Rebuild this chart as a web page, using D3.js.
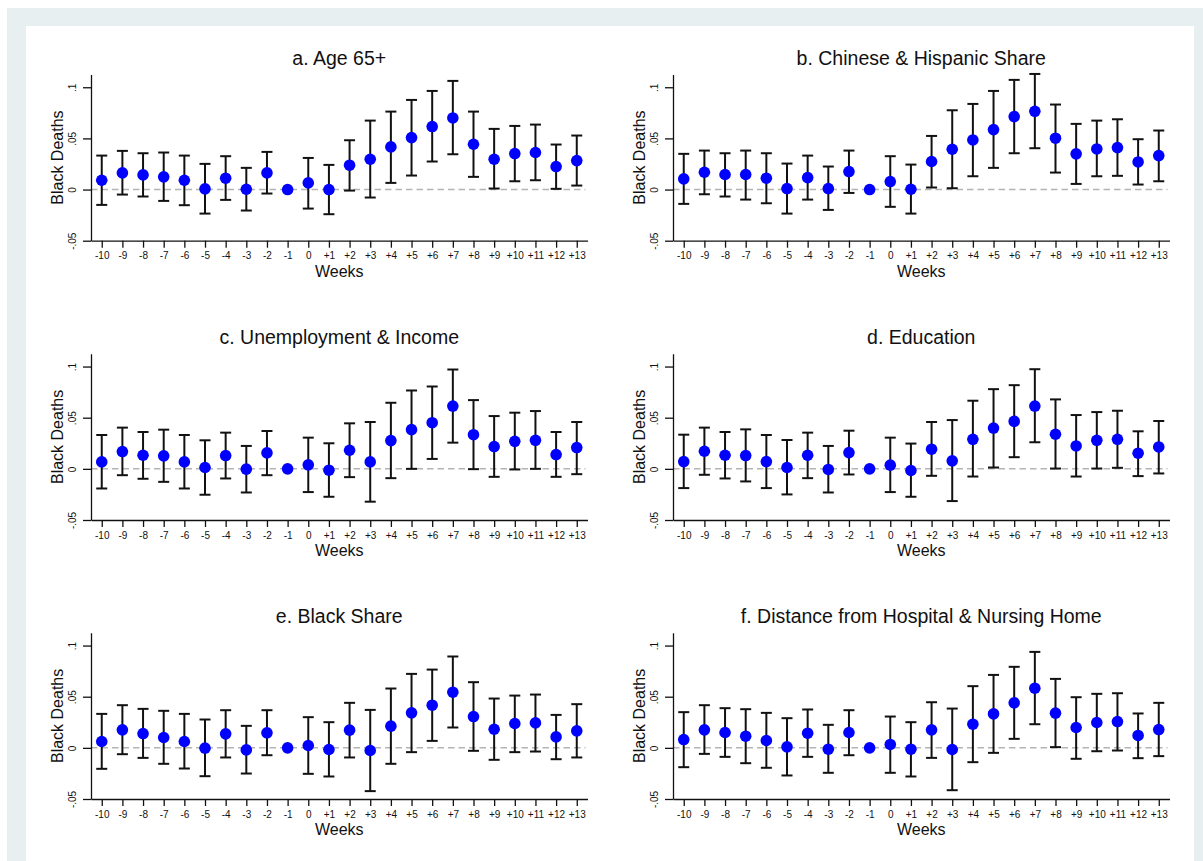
<!DOCTYPE html>
<html>
<head>
<meta charset="utf-8">
<script src="https://cdn.jsdelivr.net/npm/d3@7"></script>
<style>
  html, body { margin: 0; padding: 0; background: #ffffff; }
  svg { display: block; }
  text { font-family: "Liberation Sans", Arial, Helvetica, sans-serif; fill: #111; }
</style>
</head>
<body>
<svg id="chart" width="1203" height="861"></svg>
<script>
// ---- Data ----
const weeks = ["-10","-9","-8","-7","-6","-5","-4","-3","-2","-1","0","+1","+2","+3","+4","+5","+6","+7","+8","+9","+10","+11","+12","+13"];
const titles = ["a. Age 65+", "b. Chinese & Hispanic Share", "c. Unemployment & Income", "d. Education", "e. Black Share", "f. Distance from Hospital & Nursing Home"];
const yTicks = [-0.05, 0, 0.05, 0.1];
const yTickLabels = ["-.05", "0", ".05", ".1"];

const estA = [0.0091,0.0163,0.0143,0.0124,0.0091,0.0007,0.0111,0.0003,0.0163,0,0.0065,0.0000,0.0238,0.0296,0.0417,0.0508,0.0616,0.0700,0.0443,0.0296,0.0352,0.0362,0.0225,0.0283];
const hiA  = [0.0332,0.0378,0.0355,0.0362,0.0332,0.0251,0.0326,0.0212,0.0368,0,0.0309,0.0241,0.0482,0.0674,0.0762,0.0876,0.0964,0.1062,0.0762,0.0593,0.0622,0.0635,0.0440,0.0528];
const loA  = [-0.0150,-0.0049,-0.0068,-0.0111,-0.0153,-0.0235,-0.0101,-0.0205,-0.0039,0,-0.0186,-0.0241,-0.0010,-0.0078,0.0065,0.0137,0.0274,0.0345,0.0124,0.0010,0.0081,0.0091,0.0007,0.0039];

const estB = [0.0104,0.0169,0.0147,0.0147,0.0111,0.0010,0.0117,0.0010,0.0176,0,0.0078,0.0003,0.0274,0.0394,0.0485,0.0586,0.0713,0.0765,0.0502,0.0349,0.0397,0.0410,0.0270,0.0332];
const hiB  = [0.0349,0.0381,0.0355,0.0381,0.0355,0.0254,0.0332,0.0225,0.0381,0,0.0326,0.0244,0.0524,0.0775,0.0837,0.0964,0.1072,0.1130,0.0831,0.0642,0.0674,0.0687,0.0492,0.0577];
const loB  = [-0.0140,-0.0046,-0.0068,-0.0098,-0.0134,-0.0235,-0.0098,-0.0199,-0.0033,0,-0.0169,-0.0235,0.0020,0.0013,0.0130,0.0212,0.0355,0.0404,0.0166,0.0055,0.0130,0.0134,0.0049,0.0081];

const estC = [0.0068,0.0169,0.0133,0.0127,0.0068,0.0013,0.0130,-0.0003,0.0156,0,0.0039,-0.0013,0.0182,0.0068,0.0276,0.0383,0.0451,0.0614,0.0334,0.0218,0.0269,0.0279,0.0140,0.0208];
const hiC  = [0.0331,0.0403,0.0360,0.0383,0.0331,0.0279,0.0354,0.0224,0.0370,0,0.0305,0.0250,0.0445,0.0458,0.0646,0.0766,0.0805,0.0971,0.0672,0.0516,0.0549,0.0565,0.0360,0.0458];
const loC  = [-0.0192,-0.0062,-0.0097,-0.0127,-0.0192,-0.0253,-0.0094,-0.0231,-0.0062,0,-0.0227,-0.0273,-0.0081,-0.0321,-0.0091,0.0000,0.0097,0.0256,-0.0003,-0.0078,-0.0006,0.0000,-0.0078,-0.0052];

const estD = [0.0071,0.0172,0.0133,0.0130,0.0071,0.0013,0.0133,-0.0006,0.0159,0,0.0036,-0.0016,0.0192,0.0078,0.0289,0.0399,0.0464,0.0614,0.0338,0.0224,0.0279,0.0289,0.0153,0.0214];
const hiD  = [0.0334,0.0403,0.0360,0.0386,0.0331,0.0282,0.0354,0.0224,0.0373,0,0.0305,0.0247,0.0458,0.0477,0.0666,0.0779,0.0818,0.0974,0.0679,0.0526,0.0555,0.0568,0.0367,0.0468];
const loD  = [-0.0188,-0.0058,-0.0094,-0.0123,-0.0188,-0.0250,-0.0091,-0.0231,-0.0055,0,-0.0227,-0.0273,-0.0068,-0.0315,-0.0075,0.0013,0.0114,0.0260,0.0003,-0.0075,0.0003,0.0010,-0.0071,-0.0045];

const estE = [0.0062,0.0176,0.0140,0.0101,0.0062,-0.0003,0.0137,-0.0020,0.0147,0,0.0023,-0.0016,0.0173,-0.0026,0.0212,0.0342,0.0417,0.0544,0.0306,0.0182,0.0238,0.0244,0.0107,0.0166];
const hiE  = [0.0332,0.0417,0.0381,0.0362,0.0332,0.0277,0.0368,0.0215,0.0368,0,0.0300,0.0251,0.0440,0.0371,0.0580,0.0723,0.0765,0.0893,0.0642,0.0482,0.0511,0.0521,0.0322,0.0427];
const loE  = [-0.0205,-0.0062,-0.0098,-0.0156,-0.0202,-0.0277,-0.0094,-0.0251,-0.0072,0,-0.0254,-0.0280,-0.0094,-0.0423,-0.0156,-0.0042,0.0068,0.0199,-0.0029,-0.0117,-0.0042,-0.0036,-0.0111,-0.0094];

const estF = [0.0081,0.0176,0.0150,0.0114,0.0072,0.0010,0.0143,-0.0013,0.0150,0,0.0033,-0.0013,0.0176,-0.0016,0.0231,0.0332,0.0440,0.0583,0.0339,0.0199,0.0248,0.0257,0.0121,0.0179];
const hiF  = [0.0349,0.0417,0.0388,0.0378,0.0342,0.0290,0.0375,0.0225,0.0368,0,0.0306,0.0251,0.0446,0.0384,0.0603,0.0713,0.0792,0.0938,0.0674,0.0495,0.0528,0.0534,0.0336,0.0440];
const loF  = [-0.0189,-0.0059,-0.0088,-0.0150,-0.0195,-0.0270,-0.0088,-0.0244,-0.0072,0,-0.0244,-0.0280,-0.0098,-0.0414,-0.0140,-0.0049,0.0088,0.0231,0.0007,-0.0107,-0.0033,-0.0026,-0.0101,-0.0081];

const panelsData = [
  [estA, loA, hiA], [estB, loB, hiB],
  [estC, loC, hiC], [estD, loD, hiD],
  [estE, loE, hiE], [estF, loF, hiF]
];

// ---- Layout ----
const svg = d3.select("#chart");
svg.append("rect").attr("x", 0).attr("y", 0).attr("width", 1203).attr("height", 861).attr("fill", "#ffffff");
svg.append("rect").attr("x", 7).attr("y", 8).attr("width", 1196).attr("height", 853).attr("fill", "#e8eff1");
svg.append("rect").attr("x", 26).attr("y", 26).attr("width", 1168).attr("height", 835).attr("fill", "#ffffff");

const colX = [91, 673];       // y-axis position per column
const plotW = 496.5;
const rowY = [240.7, 520, 799]; // x-axis position per row
const pxPerUnit = 1023;
const yMax = 0.1125;

panelsData.forEach((pd, p) => {
  const [est, lo, hi] = pd;
  const col = p % 2, row = Math.floor(p / 2);
  const x0 = colX[col], x1 = x0 + plotW;
  const yb = rowY[row];
  const g = svg.append("g");

  const x = d3.scaleLinear().domain([-0.52, 23.52]).range([x0, x1]);
  const y = d3.scaleLinear().domain([-0.05, yMax]).range([yb, yb - (yMax + 0.05) * pxPerUnit]);

  // zero reference line
  g.append("line")
    .attr("x1", x0).attr("x2", x1 - 2)
    .attr("y1", y(0)).attr("y2", y(0))
    .attr("stroke", "#b4b4b4").attr("stroke-width", 1.5)
    .attr("stroke-dasharray", "6.5,4");

  // y axis
  const yAxis = d3.axisLeft(y).tickValues(yTicks)
    .tickFormat((d, i) => yTickLabels[i]).tickSize(8).tickSizeOuter(0);
  const ya = g.append("g").attr("transform", `translate(${x0},0)`).call(yAxis);
  ya.select(".domain").attr("stroke", "#111").attr("stroke-width", 1.3);
  ya.selectAll(".tick line").attr("stroke", "#111").attr("stroke-width", 1.3);
  ya.selectAll(".tick text")
    .attr("transform", "rotate(-90)")
    .attr("x", 0).attr("y", -15).attr("dy", 0)
    .attr("text-anchor", "middle")
    .style("font-size", "10px").attr("fill", "#111");

  // x axis
  const xAxis = d3.axisBottom(x).tickValues(d3.range(weeks.length))
    .tickFormat(i => weeks[i]).tickSize(7).tickSizeOuter(0).tickPadding(4.5);
  const xa = g.append("g").attr("transform", `translate(0,${yb})`).call(xAxis);
  xa.select(".domain").attr("stroke", "#111").attr("stroke-width", 1.3);
  xa.selectAll(".tick line").attr("stroke", "#111").attr("stroke-width", 1.3);
  xa.selectAll(".tick text").style("font-size", "10px").attr("fill", "#111");

  // error bars
  const bars = g.append("g");
  weeks.forEach((w, i) => {
    if (hi[i] === lo[i]) return;
    const cx = x(i);
    bars.append("line").attr("x1", cx).attr("x2", cx).attr("y1", y(hi[i])).attr("y2", y(lo[i]))
      .attr("stroke", "#111").attr("stroke-width", 2);
    bars.append("line").attr("x1", cx - 5.5).attr("x2", cx + 5.5).attr("y1", y(hi[i])).attr("y2", y(hi[i]))
      .attr("stroke", "#111").attr("stroke-width", 2);
    bars.append("line").attr("x1", cx - 5.5).attr("x2", cx + 5.5).attr("y1", y(lo[i])).attr("y2", y(lo[i]))
      .attr("stroke", "#111").attr("stroke-width", 2);
  });

  // point estimates
  g.append("g").selectAll("circle").data(est).join("circle")
    .attr("cx", (d, i) => x(i)).attr("cy", d => y(d))
    .attr("r", 5.8).attr("fill", "#0000ff");

  // title
  g.append("text").attr("x", (x0 + x1) / 2).attr("y", yb - 175.7)
    .attr("text-anchor", "middle").style("font-size", "19.5px").text(titles[p]);

  // x label
  g.append("text").attr("x", (x0 + x1) / 2).attr("y", yb + 36)
    .attr("text-anchor", "middle").style("font-size", "16px").text("Weeks");

  // y label
  const ymid = (y(-0.05) + y(yMax)) / 2;
  g.append("text")
    .attr("transform", `translate(${x0 - 28},${ymid}) rotate(-90)`)
    .attr("text-anchor", "middle").style("font-size", "16px").text("Black Deaths");
});
</script>
</body>
</html>
